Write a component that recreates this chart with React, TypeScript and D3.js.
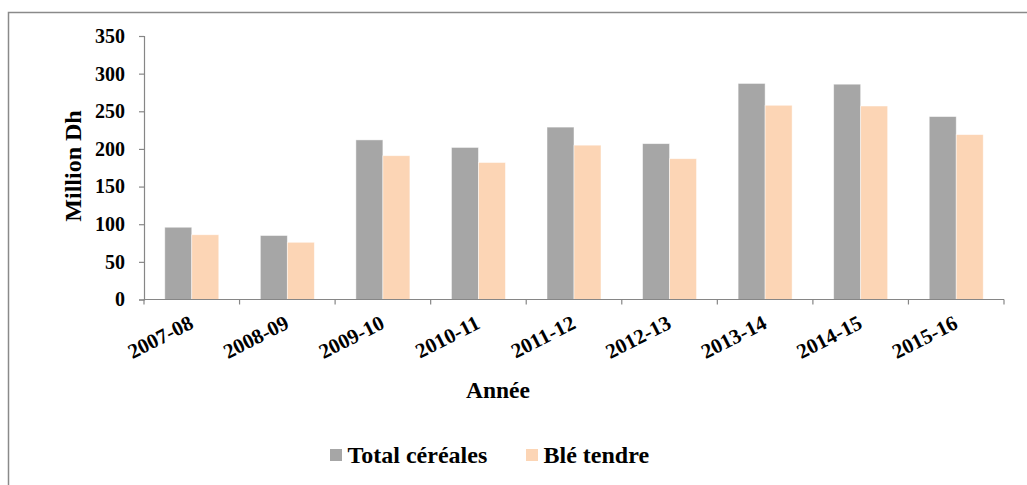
import React, { useEffect, useRef } from 'react';
import * as d3 from 'd3';

const years = ['2007-08', '2008-09', '2009-10', '2010-11', '2011-12', '2012-13', '2013-14', '2014-15', '2015-16'];
const totalCereales = [96, 85, 212, 202, 229, 207, 287, 286, 243];
const bleTendre = [86, 76, 191, 182, 205, 187, 258, 257, 219];
const yTicks = [0, 50, 100, 150, 200, 250, 300, 350];
const seriesNames = ['Total céréales', 'Blé tendre'];
const seriesColors = ['#A6A6A6', '#FCD5B5'];

const FONT = "'Liberation Serif', 'Times New Roman', serif";

const App = () => {
  const ref = useRef<SVGSVGElement | null>(null);

  useEffect(() => {
    if (!ref.current) return;
    const svg = d3.select(ref.current);
    svg.selectAll('*').remove();

    // outer frame (only top and left edges visible)
    svg.append('rect')
      .attr('x', 8.5).attr('y', 12.5)
      .attr('width', 1040).attr('height', 500)
      .attr('fill', 'none')
      .attr('stroke', '#8a8a8a')
      .attr('stroke-width', 1.5);

    const left = 144, right = 1004, top = 36, bottom = 299.5;

    const x = d3.scaleBand().domain(years).range([left, right]).paddingInner(0).paddingOuter(0);
    const y = d3.scaleLinear().domain([0, 350]).range([bottom, top]);
    const barW = 27;

    // bars
    const data = years.map((yr, i) => ({ yr, vals: [totalCereales[i], bleTendre[i]] }));
    const g = svg.append('g');
    data.forEach(d => {
      const c = (x(d.yr) as number) + x.bandwidth() / 2;
      d.vals.forEach((v, k) => {
        g.append('rect')
          .attr('x', c - barW + k * barW)
          .attr('y', y(v))
          .attr('width', barW)
          .attr('height', bottom - y(v))
          .attr('fill', seriesColors[k])
          .attr('stroke', '#ffffff')
          .attr('stroke-opacity', 0.6)
          .attr('stroke-width', 0.8);
      });
    });

    // y axis
    const yAxis = d3.axisLeft(y).tickValues(yTicks).tickSize(5).tickSizeOuter(5).tickPadding(14);
    const ya = svg.append('g').attr('transform', `translate(${left},0)`).call(yAxis);
    ya.attr('font-family', null).attr('font-size', null);
    ya.select('.domain').attr('stroke', '#868686').attr('stroke-width', 1.2);
    ya.selectAll('.tick line').attr('stroke', '#868686').attr('stroke-width', 1.2);
    ya.selectAll('.tick text')
      .attr('fill', '#000')
      .attr('font-family', FONT)
      .attr('font-weight', 'bold')
      .attr('font-size', 20);

    // x axis
    const xa = svg.append('g').attr('transform', `translate(0,${bottom})`);
    xa.append('line')
      .attr('x1', left).attr('x2', right)
      .attr('y1', 0).attr('y2', 0)
      .attr('stroke', '#868686').attr('stroke-width', 1.2);
    const boundaries = years.map(yr => x(yr) as number).concat([right]);
    xa.selectAll('.xt').data(boundaries).join('line')
      .attr('class', 'xt')
      .attr('x1', d => d).attr('x2', d => d)
      .attr('y1', 0).attr('y2', 5)
      .attr('stroke', '#868686').attr('stroke-width', 1.2);
    xa.selectAll('.xl').data(years).join('text')
      .attr('class', 'xl')
      .attr('transform', d => `translate(${(x(d) as number) + x.bandwidth() / 2 + 3},${28}) rotate(-27)`)
      .attr('text-anchor', 'end')
      .attr('fill', '#000')
      .attr('font-family', FONT)
      .attr('font-weight', 'bold')
      .attr('font-size', 21)
      .text(d => d);

    // axis titles
    svg.append('text')
      .attr('x', 498).attr('y', 398)
      .attr('text-anchor', 'middle')
      .attr('font-family', FONT)
      .attr('font-weight', 'bold')
      .attr('font-size', 23.5)
      .text('Année');

    svg.append('text')
      .attr('transform', 'translate(81,166) rotate(-90)')
      .attr('text-anchor', 'middle')
      .attr('font-family', FONT)
      .attr('font-weight', 'bold')
      .attr('font-size', 24)
      .text('Million Dh');

    // legend
    const legendX = [330, 526];
    seriesNames.forEach((name, k) => {
      svg.append('rect')
        .attr('x', legendX[k]).attr('y', 449)
        .attr('width', 12).attr('height', 12)
        .attr('fill', seriesColors[k]);
      svg.append('text')
        .attr('x', legendX[k] + 17.5).attr('y', 463)
        .attr('font-family', FONT)
        .attr('font-weight', 'bold')
        .attr('font-size', 24)
        .text(name);
    });
  }, []);

  return (
    <svg
      ref={ref}
      width={1027}
      height={485}
      style={{ position: 'absolute', left: 0, top: 0, background: '#fff' }}
    />
  );
};

export default App;
